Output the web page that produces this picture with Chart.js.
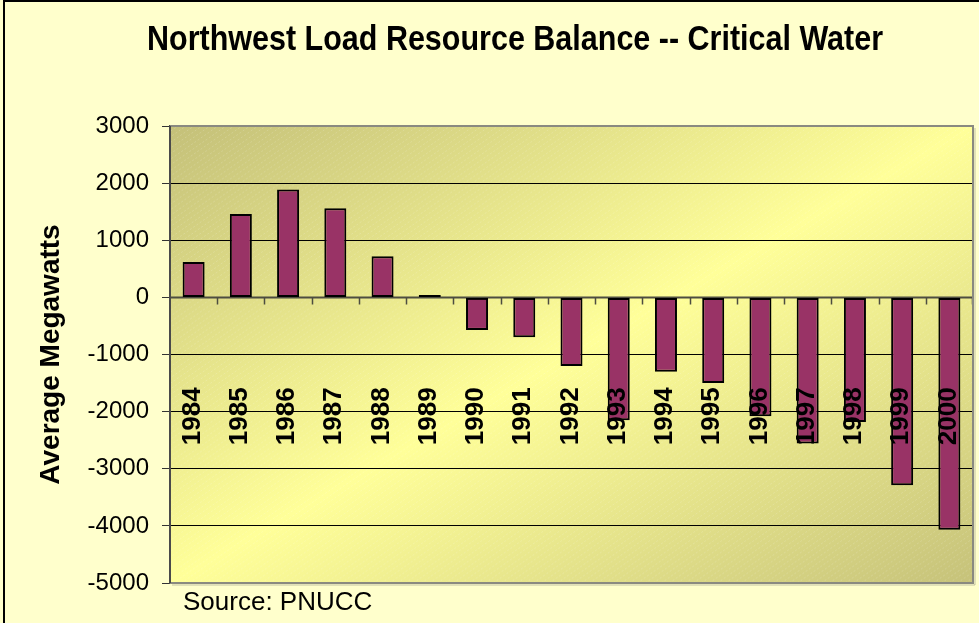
<!DOCTYPE html>
<html>
<head>
<meta charset="utf-8">
<script src="https://cdn.jsdelivr.net/npm/chart.js@4.4.1/dist/chart.umd.min.js"></script>
<style>
html,body{margin:0;padding:0;background:#FFFFCC;overflow:hidden;}
#wrap{width:979px;height:623px;position:relative;}
canvas{display:block;}
</style>
</head>
<body>
<div id="wrap"><canvas id="c" width="979" height="623"></canvas></div>
<script>
// ---- data ----
const categories = ['1984','1985','1986','1987','1988','1989','1990','1991','1992','1993','1994','1995','1996','1997','1998','1999','2000'];
const balanceMW = [620, 1460, 1890, 1560, 720, 40, -570, -700, -1200, -2150, -1300, -1500, -2080, -2560, -2180, -3290, -4070];
const yTickValues = [-5000, -4000, -3000, -2000, -1000, 0, 1000, 2000, 3000];
const titleText = 'Northwest Load Resource Balance -- Critical Water';
const yAxisTitle = 'Average Megawatts';
const sourceText = 'Source: PNUCC';

const FAMILY = "'Liberation Sans', Arial, Helvetica, sans-serif";

const decorPlugin = {
  id: 'decor',
  beforeDraw(chart) {
    const ctx = chart.ctx;
    const a = chart.chartArea;
    ctx.save();
    ctx.fillStyle = '#FFFFCC';
    ctx.fillRect(0, 0, chart.width, chart.height);
    // outer border (left & top visible)
    ctx.strokeStyle = '#000';
    ctx.lineWidth = 2;
    ctx.beginPath();
    ctx.moveTo(4, chart.height + 5);
    ctx.lineTo(4, 1);
    ctx.lineTo(chart.width + 5, 1);
    ctx.stroke();
    // plot area diagonal gradient (normalized box)
    ctx.save();
    ctx.translate(a.left, a.top);
    ctx.scale(a.right - a.left, a.bottom - a.top);
    const g = ctx.createLinearGradient(0, 0, 1, 1);
    g.addColorStop(0, '#C4C079');
    g.addColorStop(0.5, '#FFFF99');
    g.addColorStop(1, '#C6C27A');
    ctx.fillStyle = g;
    ctx.fillRect(0, 0, 1, 1);
    ctx.restore();
    // faint diagonal texture
    ctx.save();
    ctx.beginPath();
    ctx.rect(a.left, a.top, a.right - a.left, a.bottom - a.top);
    ctx.clip();
    ctx.strokeStyle = 'rgba(255,255,255,0.16)';
    ctx.lineWidth = 1;
    ctx.setLineDash([2, 2]);
    const h = a.bottom - a.top;
    const run = h / Math.tan(35 * Math.PI / 180);
    ctx.beginPath();
    for (let x = a.left - run; x < a.right + 10; x += 8) {
      ctx.moveTo(x, a.bottom);
      ctx.lineTo(x + run, a.top);
    }
    ctx.stroke();
    ctx.restore();
    ctx.restore();
  },
  beforeDatasetsDraw(chart) {
    const ctx = chart.ctx;
    const a = chart.chartArea;
    const xs = chart.scales.x, ys = chart.scales.y;
    const y0 = ys.getPixelForValue(0);
    ctx.save();
    ctx.strokeStyle = '#4d4d40';
    ctx.lineWidth = 2;
    ctx.beginPath();
    ctx.moveTo(a.left, y0);
    ctx.lineTo(a.right, y0);
    ctx.stroke();
    ctx.lineWidth = 1.5;
    ctx.beginPath();
    for (let i = 0; i < categories.length; i++) {
      let bx;
      if (i < categories.length - 1) {
        bx = (xs.getPixelForValue(i) + xs.getPixelForValue(i + 1)) / 2;
      } else {
        bx = a.right - 1;
      }
      bx = Math.round(bx) + 0.5;
      ctx.moveTo(bx, y0);
      ctx.lineTo(bx, y0 + 7);
    }
    ctx.stroke();
    ctx.restore();
  },
  afterDatasetsDraw(chart) {
    const ctx = chart.ctx;
    const a = chart.chartArea;
    const xs = chart.scales.x, ys = chart.scales.y;
    const y0 = ys.getPixelForValue(0);
    ctx.save();
    // plot border (top, right, bottom)
    ctx.strokeStyle = '#8a8a80';
    ctx.lineWidth = 2;
    ctx.beginPath();
    ctx.moveTo(a.left, a.top);
    ctx.lineTo(a.right, a.top);
    ctx.lineTo(a.right, a.bottom);
    ctx.lineTo(a.left, a.bottom);
    ctx.stroke();
    ctx.strokeStyle = 'rgba(120,120,110,0.45)';
    ctx.lineWidth = 1;
    ctx.beginPath();
    ctx.moveTo(a.right + 2, a.top + 2);
    ctx.lineTo(a.right + 2, a.bottom + 2);
    ctx.lineTo(a.left + 2, a.bottom + 2);
    ctx.stroke();
    // left axis line
    ctx.strokeStyle = '#4a4a4a';
    ctx.lineWidth = 2;
    ctx.beginPath();
    ctx.moveTo(a.left, a.top);
    ctx.lineTo(a.left, a.bottom);
    ctx.stroke();
    // category labels
    ctx.fillStyle = '#000';
    ctx.font = 'bold 26px ' + FAMILY;
    categories.forEach((c, i) => {
      const x = xs.getPixelForValue(i);
      ctx.save();
      ctx.translate(x - 1, y0 + 90);
      ctx.rotate(-Math.PI / 2);
      ctx.textAlign = 'right';
      ctx.textBaseline = 'middle';
      ctx.fillText(c, 0, 0);
      ctx.restore();
    });
    ctx.restore();
  },
  afterDraw(chart) {
    const ctx = chart.ctx;
    ctx.save();
    ctx.fillStyle = '#000';
    // title (condensed bold)
    ctx.font = 'bold 35px ' + FAMILY;
    const w = ctx.measureText(titleText).width;
    const sx = 736 / w;
    ctx.translate(515, 50);
    ctx.scale(sx, 1);
    ctx.textAlign = 'center';
    ctx.textBaseline = 'alphabetic';
    ctx.fillText(titleText, 0, 0);
    ctx.restore();
    // source
    ctx.save();
    ctx.fillStyle = '#000';
    ctx.font = '26px ' + FAMILY;
    ctx.textAlign = 'left';
    ctx.textBaseline = 'alphabetic';
    ctx.fillText(sourceText, 183, 610);
    ctx.restore();
  }
};

new Chart(document.getElementById('c'), {
  type: 'bar',
  data: {
    labels: categories,
    datasets: [{
      data: balanceMW,
      backgroundColor: '#993366',
      borderColor: '#000000',
      borderWidth: 2,
      borderSkipped: false,
      categoryPercentage: 1,
      barPercentage: 0.466
    }]
  },
  options: {
    responsive: false,
    devicePixelRatio: 1,
    animation: false,
    layout: { padding: { top: 126, right: 6, bottom: 40, left: 0 } },
    plugins: {
      legend: { display: false },
      title: { display: false },
      tooltip: { enabled: false }
    },
    scales: {
      x: {
        type: 'category',
        display: false,
        offset: true
      },
      y: {
        min: -5000,
        max: 3000,
        afterBuildTicks(scale) {
          scale.ticks = yTickValues.map(v => ({ value: v }));
        },
        afterFit(scale) { scale.width = 170; },
        ticks: {
          color: '#000',
          font: { size: 24, family: FAMILY },
          padding: 13,
          callback: (v) => String(v)
        },
        grid: {
          color: (c) => (c.tick && (c.tick.value === 3000 || c.tick.value === -5000)) ? 'rgba(0,0,0,0)' : '#000',
          lineWidth: 1,
          tickLength: 8,
          tickColor: '#333',
          drawTicks: true
        },
        border: { display: true, color: '#4a4a4a', width: 2 },
        title: {
          display: true,
          text: yAxisTitle,
          color: '#000',
          font: { size: 28, weight: 'bold', family: FAMILY, lineHeight: 1 },
          padding: { top: 37, bottom: 0 }
        }
      }
    }
  },
  plugins: [decorPlugin]
});
</script>
</body>
</html>
